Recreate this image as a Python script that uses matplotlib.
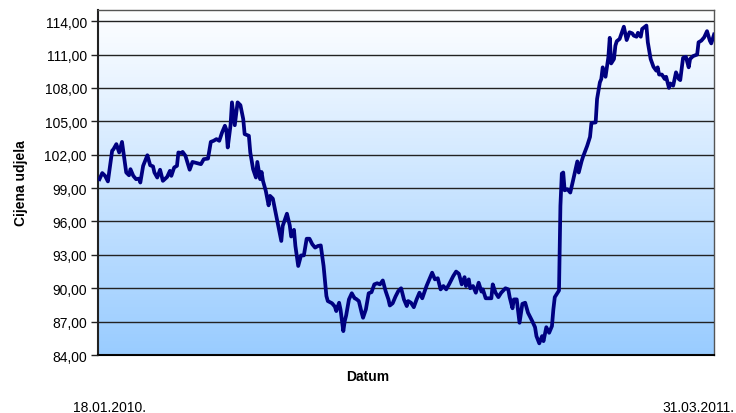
import numpy as np
import pandas as pd
import matplotlib
matplotlib.use("Agg")
import matplotlib.pyplot as plt
from matplotlib.colors import LinearSegmentedColormap

plt.rcParams['font.family'] = ['Liberation Sans', 'DejaVu Sans']

start = pd.Timestamp('2010-01-18')
end = pd.Timestamp('2011-03-31')

# days since 18.01.2010 and share price
days = [1, 3, 5, 7, 10, 11, 13, 15, 17, 20, 22, 23, 25, 27, 29, 30, 32, 35, 37, 39,
        40, 42, 44, 46, 49, 51, 52, 54, 56, 57, 59, 60, 62, 65, 67, 70, 73, 75, 78, 80,
        82, 84, 86, 88, 90, 91, 92, 94, 95, 97, 99, 101, 103, 104, 107, 108, 110, 112, 113, 115,
        116, 117, 119, 121, 122, 124, 126, 128, 130, 131, 134, 136, 137, 139, 140, 142, 144, 146, 148, 150,
        152, 154, 156, 158, 160, 162, 163, 166, 168, 169, 171, 172, 174, 175, 176, 178, 180, 182, 183, 185,
        187, 188, 190, 192, 194, 196, 198, 200, 202, 204, 206, 207, 209, 211, 213, 215, 217, 219, 220, 222,
        224, 226, 228, 230, 233, 235, 237, 239, 241, 243, 245, 247, 249, 252, 254, 256, 258, 260, 261, 263,
        264, 266, 268, 270, 272, 273, 275, 277, 279, 280, 282, 284, 286, 289, 291, 292, 294, 295, 297, 299,
        301, 303, 305, 308, 310, 311, 313, 315, 316, 318, 320, 322, 323, 324, 327, 328, 329, 330, 331, 333,
        335, 337, 340, 341, 343, 344, 347, 349, 350, 353, 354, 356, 357, 358, 360, 362, 363, 364, 366, 367,
        368, 370, 373, 375, 377, 379, 380, 382, 383, 385, 386, 389, 390, 392, 394, 396, 397, 398, 400, 402,
        403, 405, 406, 408, 410, 412, 413, 415, 417, 419, 420, 422, 425, 426, 428, 430, 432, 434, 435, 437]
price = [99.8, 100.35, 100.1, 99.6, 102.35, 102.5, 102.95, 102.2, 103.15, 100.4, 100.15, 100.7, 100.1, 99.8, 99.85, 99.5, 101.0, 101.95, 101.05, 100.95,
         100.4, 99.95, 100.65, 99.65, 100.0, 100.55, 100.1, 100.85, 101.0, 102.2, 102.15, 102.25, 101.9, 100.65, 101.35, 101.25, 101.15, 101.6, 101.65, 103.15,
         103.25, 103.4, 103.25, 104.0, 104.6, 104.25, 102.65, 104.65, 106.7, 104.65, 106.7, 106.45, 105.2, 103.85, 103.7, 102.2, 100.7, 99.95, 101.35, 99.8,
         100.45, 99.65, 98.75, 97.45, 98.3, 98.05, 96.8, 95.6, 94.25, 95.6, 96.7, 95.65, 94.65, 95.25, 93.8, 92.0, 92.95, 92.95, 94.45, 94.45,
         93.95, 93.65, 93.8, 93.85, 92.0, 89.3, 88.85, 88.65, 88.35, 87.95, 88.7, 88.1, 86.15, 87.05, 87.55, 89.0, 89.55, 89.1, 89.05, 88.85,
         87.8, 87.35, 88.1, 89.55, 89.65, 90.35, 90.45, 90.35, 90.7, 89.75, 89.0, 88.45, 88.65, 89.25, 89.75, 90.0, 89.0, 88.4, 88.85, 88.7,
         88.3, 89.0, 89.6, 89.1, 90.2, 90.8, 91.4, 90.8, 90.9, 89.9, 90.2, 89.9, 90.35, 91.1, 91.5, 91.3, 90.35, 91.0, 90.2, 90.8,
         90.0, 90.2, 89.6, 90.5, 89.7, 89.9, 89.1, 89.1, 89.1, 90.35, 89.6, 89.2, 89.6, 90.0, 89.9, 89.2, 88.2, 89.0, 89.0, 86.9,
         88.6, 88.7, 87.8, 87.05, 86.5, 85.7, 85.05, 85.7, 85.25, 86.5, 86.0, 86.6, 88.1, 89.2, 89.8, 97.4, 100.3, 100.4, 98.8, 98.9,
         98.6, 99.7, 101.4, 100.4, 101.4, 101.8, 102.8, 103.6, 104.85, 104.9, 107.0, 108.5, 108.8, 109.85, 109.0, 110.75, 112.5, 110.2, 110.6, 111.8,
         112.2, 112.4, 113.5, 112.3, 113.0, 112.9, 112.7, 112.6, 112.95, 112.6, 113.3, 113.6, 112.1, 110.6, 109.9, 109.55, 109.85, 109.2, 109.2, 108.8,
         109.0, 108.0, 108.4, 108.2, 109.4, 108.8, 108.7, 110.7, 110.8, 109.85, 110.6, 110.85, 111.0, 112.1, 112.25, 112.55, 113.1, 112.25, 112.0, 112.8]

yticks = np.arange(84, 115, 3)
dates = start + pd.to_timedelta(days, unit='D')

fig = plt.figure(figsize=(7.36, 4.14), dpi=100)
ax = fig.add_axes([0.1332, 0.140, 0.8370, 0.8334])

# white to light blue gradient behind the data
cmap = LinearSegmentedColormap.from_list('bg', ['#99CCFF', '#FFFFFF'])
grad = np.linspace(0, 1, 256).reshape(-1, 1)
ax.imshow(grad, cmap=cmap, aspect='auto', origin='lower',
          extent=[0, 1, 0, 1], transform=ax.transAxes, zorder=0)

ax.plot(dates, price, color='#000080', lw=2.7, solid_joinstyle='round', zorder=3)

ax.set_xlim(start, end)
ax.set_ylim(84, 115)
ax.set_yticks(yticks)
ax.set_yticklabels(['%.2f' % v for v in yticks])
ax.set_yticklabels([('%.2f' % v).replace('.', ',') for v in yticks])
ax.set_xticks([])
ax.grid(axis='y', color='#222222', lw=1.0, zorder=1)
ax.set_axisbelow(False)

for s in ['top', 'right']:
    ax.spines[s].set_color('#555555')
    ax.spines[s].set_linewidth(1.0)
ax.spines['left'].set_color('#222222')
ax.spines['left'].set_linewidth(1.5)
ax.spines['bottom'].set_color('black')
ax.spines['bottom'].set_linewidth(1.5)
ax.tick_params(axis='y', length=5, width=1, color='#222222', labelsize=10, pad=3)

ax.set_ylabel('Cijena udjela', fontsize=10, fontweight='bold', labelpad=12)
fig.text(368 / 736, 1 - 377 / 414, 'Datum', fontsize=10, fontweight='bold',
         ha='center', va='center')
fig.text(110 / 736, 1 - 408 / 414, '18.01.2010.', fontsize=10, ha='center', va='center')
fig.text(698 / 736, 1 - 408 / 414, '31.03.2011.', fontsize=10, ha='center', va='center')

fig.savefig('out.png', dpi=100)
